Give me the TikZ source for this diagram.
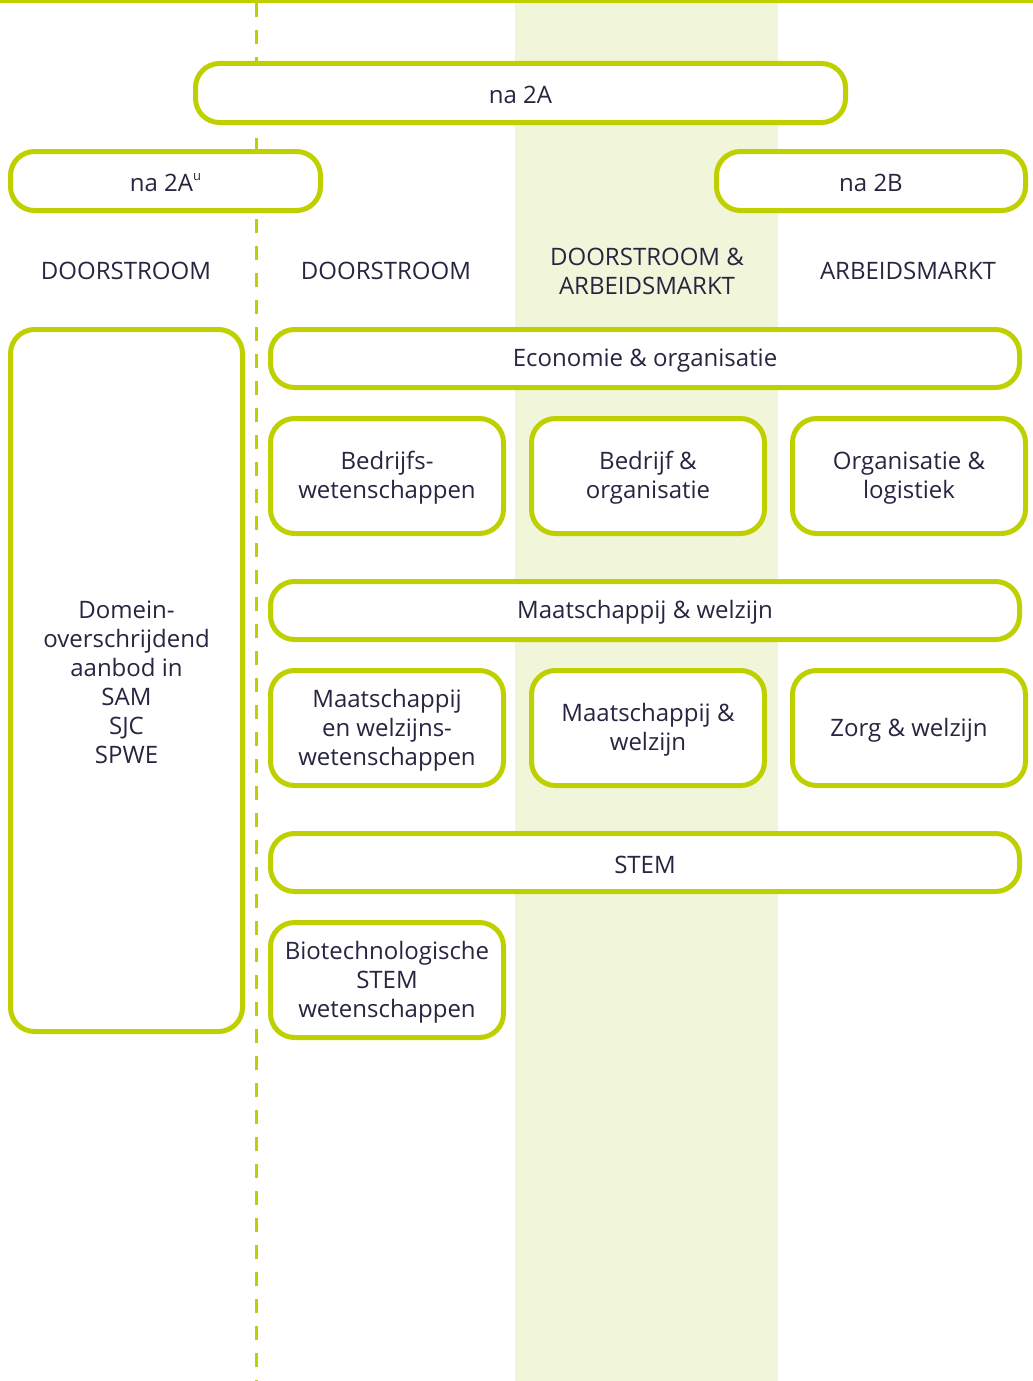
\documentclass[tikz,border=0pt]{standalone}
\usepackage{fontspec}
\setmainfont{Open Sans}
\definecolor{lime}{RGB}{190,208,0}
\definecolor{band}{RGB}{241,245,218}
\definecolor{ink}{RGB}{38,38,64}
\newcommand\boxtxt[4]{\node[#1] (#2) at #3 {}; \node (#2t) at ([yshift=-2pt]#2.center) {#4};}
\begin{document}
\begin{tikzpicture}[x=1pt,y=-1pt,
  every node/.style={text=ink,font=\fontsize{24}{29}\selectfont,align=center,inner sep=0pt},
  pill/.style={draw=lime,line width=5pt,fill=white,rounded corners=24pt,minimum height=59pt},
  tile/.style={pill,minimum width=233pt,minimum height=115pt},
  wide/.style={pill,minimum width=749pt,minimum height=58pt},
  head/.style={}]
\useasboundingbox (0,0) rectangle (1033,1381);
\fill[band] (515,0) rectangle (778,1381);
\fill[lime] (0,0) rectangle (1033,3.5);
\coordinate (dtop) at (256,3);
\coordinate (dbot) at (256,1381);
\draw[lime,line width=3pt,dash pattern=on 14pt off 13pt] (dtop) -- (dbot);

\boxtxt{pill,minimum width=650pt}{na2A}{(520.5,93)}{na 2A}
\boxtxt{pill,minimum width=310pt}{na2Au}{(165.5,181)}{na 2A\raisebox{0.85ex}{\fontsize{13}{13}\selectfont u}}
\boxtxt{pill,minimum width=309pt}{na2B}{(871,181)}{na 2B}

\node[head] (h1) at (126,271) {DOORSTROOM};
\node[head] (h2) at (386,271) {DOORSTROOM};
\node[head] (h3) at (647,271.5) {DOORSTROOM \&\\ARBEIDSMARKT};
\node[head] (h4) at (908,271) {ARBEIDSMARKT};

\boxtxt{pill,minimum width=232pt,minimum height=702pt}{dom}{(126.5,680.5)}
  {Domein-\\overschrijdend\\aanbod in\\SAM\\SJC\\SPWE}

\boxtxt{wide}{eco}{(645,358.5)}{Economie \& organisatie}
\boxtxt{tile}{e1}{(387,476)}{Bedrijfs-\\wetenschappen}
\boxtxt{tile}{e2}{(648,476)}{Bedrijf \&\\organisatie}
\boxtxt{tile}{e3}{(909,476)}{Organisatie \&\\logistiek}

\boxtxt{wide}{maw}{(645,610.5)}{Maatschappij \& welzijn}
\boxtxt{tile}{m1}{(387,728)}{Maatschappij\\en welzijns-\\wetenschappen}
\boxtxt{tile}{m2}{(648,728)}{Maatschappij \&\\welzijn}
\boxtxt{tile}{m3}{(909,728)}{Zorg \& welzijn}

\boxtxt{wide}{stem}{(645,862.5)}{STEM}
\boxtxt{tile}{s1}{(387,980)}{Biotechnologische\\STEM\\wetenschappen}
\end{tikzpicture}
\end{document}
